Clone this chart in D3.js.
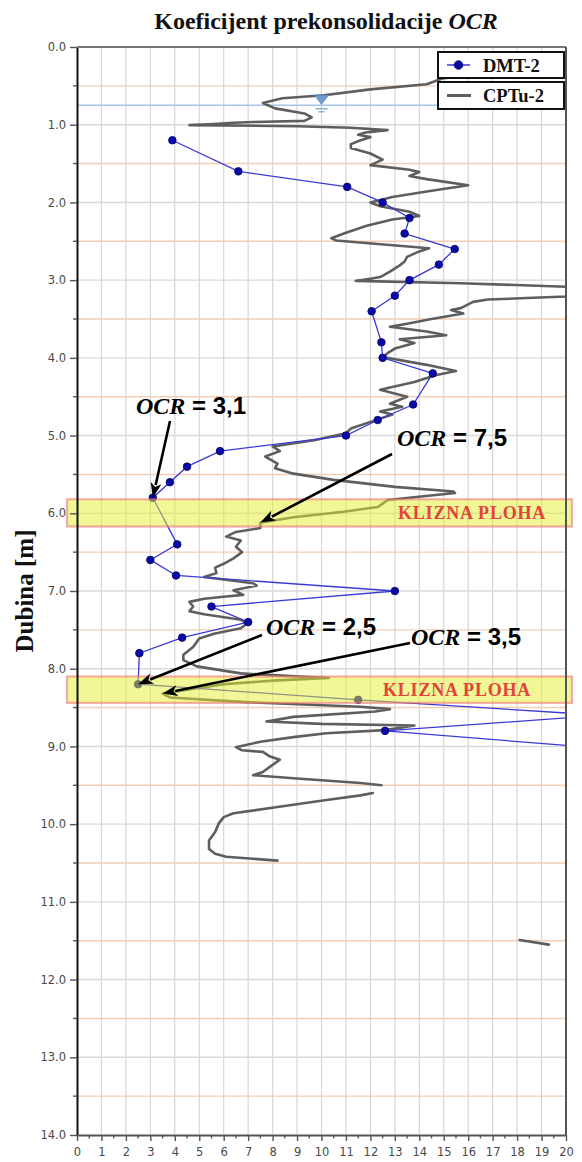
<!DOCTYPE html>
<html>
<head>
<meta charset="utf-8">
<script src="https://cdn.jsdelivr.net/npm/d3@7"></script>
<style>
  html, body { margin: 0; padding: 0; background: #fff; }
  svg { display: block; }
</style>
</head>
<body>
<script>
// ---------------- data ----------------
// DMT-2 sounding: depth [m] and OCR
const dmtDepth = [1.2, 1.6, 1.8, 2.0, 2.2, 2.4, 2.6, 2.8, 3.0, 3.2, 3.4, 3.8, 4.0, 4.2, 4.6, 4.8, 5.0,
                  5.2, 5.4, 5.6, 5.8, 6.4, 6.6, 6.8, 7.0, 7.2, 7.4, 7.6, 7.8, 8.2, 8.4, 8.6, 8.8, 9.0];
const dmtOcr   = [3.9, 6.6, 11.05, 12.5, 13.6, 13.4, 15.45, 14.8, 13.6, 13.0, 12.05, 12.45, 12.5, 14.55, 13.75, 12.3, 11.0,
                  5.85, 4.5, 3.8, 3.1, 4.1, 3.0, 4.05, 13.0, 5.5, 7.0, 4.3, 2.55, 2.5, 11.5, 21.5, 12.6, 20.5];

// CPTu-2 sounding: depth [m] and OCR (null = gap in the record)
const cptuDepth = [0.35, 0.40, 0.48, 0.545, 0.62, 0.66, 0.72, 0.79, 0.855, 0.905, 0.95, 0.965, 0.975, 0.99, 1.005,
  1.02, 1.04, 1.07, 1.10, 1.13, 1.16, 1.20, 1.25, 1.30, 1.37, 1.45, 1.52, 1.58, 1.61, 1.66, 1.70, 1.78, 1.86, 1.93,
  2.00, 2.05, 2.12, 2.175, 2.22, 2.30, 2.39, 2.46, 2.49, 2.535, 2.59, 2.63, 2.70, 2.76, 2.81, 2.89, 2.96, 2.98,
  3.01, 3.04, 3.09, 3.15, 3.21, 3.25, 3.28, 3.36, 3.385, 3.43, 3.50, 3.56, 3.60, 3.66, 3.71, 3.76, 3.81, 3.88,
  3.94, 3.99, 4.09, 4.17, 4.22, 4.31, 4.41, 4.50, 4.59, 4.63, 4.69, 4.73, 4.84, 4.91, 4.97, 5.06, 5.14, 5.20,
  5.27, 5.36, 5.42, 5.49, 5.57, 5.66, 5.72, 5.74, 5.83, 5.92, 5.98, 6.05, 6.12, 6.19, 6.24, 6.30, 6.35, 6.43,
  6.50, 6.58, 6.65, 6.70, 6.77, 6.82, 6.90, 6.93, 6.99, 7.05, 7.07, 7.10, 7.14, 7.20, 7.26, 7.30, 7.37, 7.42,
  7.48, 7.55, 7.61, 7.72, 7.82, 7.89, 7.97, 8.06, 8.12, 8.15, 8.20, 8.23, 8.32, 8.37, 8.43, 8.49, 8.52, 8.55,
  8.62, 8.68, 8.71, 8.73, 8.79, 8.83, 8.88, 8.94, 9.01, 9.05, 9.07, 9.13, 9.17, 9.26, 9.33, 9.37, 9.41, 9.47, 9.50,
  null,
  9.60, 9.63, 9.69, 9.78, 9.86, 9.91, 9.99, 10.10, 10.21, 10.32, 10.38, 10.42, 10.47,
  null,
  11.49, 11.55];
const cptuOcr = [17.0, 15.0, 14.3, 12.0, 10.1, 8.4, 7.6, 8.1, 9.3, 9.6, 9.3, 7.2, 6.4, 5.6, 4.6,
  9.0, 11.2, 12.7, 11.8, 11.5, 12.0, 11.6, 11.2, 11.2, 12.0, 12.5, 12.0, 13.6, 14.0, 13.6, 14.3, 16.0, 14.3, 12.9,
  12.0, 12.4, 13.6, 14.0, 12.9, 11.85, 11.0, 10.4, 10.6, 12.3, 14.4, 14.0, 13.5, 13.4, 13.2, 12.8, 12.4, 12.05,
  11.4, 15.7, 20.5, 21.5, 20.0, 16.8, 16.2, 15.7, 15.3, 15.8, 14.5, 13.5, 12.8, 14.3, 15.1, 13.2, 13.8, 13.0,
  12.7, 12.5, 14.3, 15.5, 14.7, 13.8, 12.4, 13.5, 12.8, 13.3, 12.4, 12.9, 11.85, 11.2, 11.0, 9.7, 8.0, 8.3,
  7.7, 8.2, 8.1, 8.85, 10.5, 13.0, 15.4, 15.46, 12.7, 12.3, 10.9, 8.85, 7.5, 7.5, 6.5, 6.1, 6.7, 6.5,
  6.75, 6.4, 6.0, 5.65, 5.7, 5.2, 7.2, 7.35, 6.4, 6.8, 6.1, 5.2, 4.6, 4.75, 4.6, 5.2, 6.7, 6.95,
  6.7, 5.6, 5.0, 4.75, 4.35, 4.35, 4.9, 6.7, 10.3, 8.2, 6.0, 5.4, 3.5, 3.8, 6.9, 11.6, 12.8, 12.2,
  8.85, 7.75, 10.0, 13.8, 12.6, 10.2, 8.85, 7.5, 6.5, 6.75, 7.6, 7.9, 8.3, 7.9, 7.6, 7.2, 8.85, 11.6, 12.45,
  null,
  12.1, 11.6, 10.2, 8.2, 6.4, 6.0, 5.8, 5.65, 5.4, 5.4, 5.65, 6.1, 8.2,
  null,
  18.1, 19.3];

// Slip surfaces (depth range, m)
const slipTop    = [5.82, 8.10];
const slipBottom = [6.17, 8.44];
const slipLabel  = "KLIZNA PLOHA";

// Ground water level
const waterDepth = 0.75;
const waterMarkOcr = 10;

// Annotated OCR values: text, target depth and OCR
const noteText  = ["3,1", "7,5", "2,5", "3,5"];
const noteDepth = [5.8, 6.12, 8.2, 8.32];
const noteOcr   = [3.1, 7.5, 2.5, 3.5];

// Axis ticks
const depthTicks = [0, 1, 2, 3, 4, 5, 6, 7, 8, 9, 10, 11, 12, 13, 14];
const depthMinorTicks = [0.5, 1.5, 2.5, 3.5, 4.5, 5.5, 6.5, 7.5, 8.5, 9.5, 10.5, 11.5, 12.5, 13.5];
const ocrTicks = [0, 1, 2, 3, 4, 5, 6, 7, 8, 9, 10, 11, 12, 13, 14, 15, 16, 17, 18, 19, 20];
const ocrMinorTicks = ocrTicks.slice(0, -1).map(v => v + 0.5);

const seriesNames = ["DMT-2", "CPTu-2"];

// ---------------- layout ----------------
const W = 582, H = 1162;
const plot = { left: 77, right: 566, top: 47, bottom: 1135 };

const x = d3.scaleLinear().domain([0, 20]).range([plot.left, plot.right]);
const y = d3.scaleLinear().domain([0, 14]).range([plot.top, plot.bottom]);

const svg = d3.select("body").append("svg")
  .attr("width", W).attr("height", H)
  .style("font-family", "'DejaVu Sans', sans-serif");

svg.append("defs").append("clipPath").attr("id", "plotClip")
  .append("rect")
  .attr("x", plot.left).attr("y", plot.top)
  .attr("width", plot.right - plot.left).attr("height", plot.bottom - plot.top);

// ---------------- grid ----------------
const grid = svg.append("g");
grid.selectAll("line.v").data(ocrTicks.slice(1, -1)).join("line")
  .attr("x1", d => x(d)).attr("x2", d => x(d))
  .attr("y1", plot.top).attr("y2", plot.bottom)
  .attr("stroke", "#d6d6d6").attr("stroke-width", 1.2);
grid.selectAll("line.h").data(depthTicks.slice(1, -1)).join("line")
  .attr("x1", plot.left).attr("x2", plot.right)
  .attr("y1", d => y(d)).attr("y2", d => y(d))
  .attr("stroke", "#d9d9d9").attr("stroke-width", 1.4);
grid.selectAll("line.hm").data(depthMinorTicks).join("line")
  .attr("x1", plot.left).attr("x2", plot.right)
  .attr("y1", d => y(d)).attr("y2", d => y(d))
  .attr("stroke", "#f1cfb6").attr("stroke-width", 1.4);

// ground water line
svg.append("line")
  .attr("x1", plot.left).attr("x2", plot.right)
  .attr("y1", y(waterDepth)).attr("y2", y(waterDepth))
  .attr("stroke", "#a7c5e3").attr("stroke-width", 1.5);

// ---------------- series ----------------
const data = svg.append("g").attr("clip-path", "url(#plotClip)");

const cptu = cptuDepth.map((d, i) => ({ depth: d, ocr: cptuOcr[i] }));
const lineGen = d3.line()
  .defined(d => d.ocr !== null && d.depth !== null)
  .x(d => x(d.ocr)).y(d => y(d.depth));

data.append("path")
  .datum(cptu)
  .attr("d", lineGen)
  .attr("fill", "none")
  .attr("stroke", "#5e5e5e")
  .attr("stroke-width", 2.6)
  .attr("stroke-linejoin", "round")
  .attr("stroke-linecap", "round");

const dmt = dmtDepth.map((d, i) => ({ depth: d, ocr: dmtOcr[i] }));
data.append("path")
  .datum(dmt)
  .attr("d", lineGen)
  .attr("fill", "none")
  .attr("stroke", "#3a3ad6")
  .attr("stroke-width", 1.3);

data.selectAll("circle.dmt").data(dmt).join("circle")
  .attr("cx", d => x(d.ocr)).attr("cy", d => y(d.depth))
  .attr("r", 3.8)
  .attr("fill", "#0a0aa8")
  .attr("stroke", "#000060")
  .attr("stroke-width", 0.8);

// ground water marker
const wx = x(waterMarkOcr), wy = y(waterDepth);
svg.append("path")
  .attr("d", `M${wx - 7},${wy - 10} L${wx + 7},${wy - 10} L${wx},${wy - 1} Z`)
  .attr("fill", "#6d9fd6").attr("stroke", "#5a8cc4").attr("stroke-width", 0.8);
svg.append("line")
  .attr("x1", wx - 6).attr("x2", wx + 6).attr("y1", wy + 3.5).attr("y2", wy + 3.5)
  .attr("stroke", "#7aa6d8").attr("stroke-width", 1.3);
svg.append("line")
  .attr("x1", wx - 3).attr("x2", wx + 3).attr("y1", wy + 6.5).attr("y2", wy + 6.5)
  .attr("stroke", "#7aa6d8").attr("stroke-width", 1.3);

// ---------------- slip surfaces ----------------
const bands = svg.append("g");
const bandLabelX = [398, 383];
slipTop.forEach((top, i) => {
  bands.append("rect")
    .attr("x", plot.left - 10)
    .attr("y", y(top))
    .attr("width", plot.right - plot.left + 16)
    .attr("height", y(slipBottom[i]) - y(top))
    .attr("fill", "rgba(228,238,45,0.5)")
    .attr("stroke", "rgba(238,110,110,0.55)")
    .attr("stroke-width", 2.2);
  bands.append("text")
    .attr("x", bandLabelX[i])
    .attr("y", (y(top) + y(slipBottom[i])) / 2 + 6.5)
    .attr("fill", "#e2433b")
    .attr("font-family", "'Liberation Serif', 'Times New Roman', serif")
    .attr("font-weight", "bold")
    .attr("font-size", 18)
    .attr("letter-spacing", 0.8)
    .text(slipLabel);
});

// ---------------- annotations ----------------
// label anchor (text start, baseline) and arrow start for each note
const noteLayout = [
  { tx: 136, ty: 414, ax: 170, ay: 421 },
  { tx: 397, ty: 446, ax: 392, ay: 454 },
  { tx: 266, ty: 635, ax: 262, ay: 635 },
  { tx: 411, ty: 645, ax: 410, ay: 643 }
];
const notes = svg.append("g");
noteText.forEach((txt, i) => {
  const L = noteLayout[i];
  const tipX = x(noteOcr[i]), tipY = y(noteDepth[i]);
  const dx = tipX - L.ax, dy = tipY - L.ay;
  const len = Math.hypot(dx, dy);
  const ux = dx / len, uy = dy / len;
  const headLen = 15, headHalf = 5.5;
  const bx = tipX - ux * headLen, by = tipY - uy * headLen;
  notes.append("line")
    .attr("x1", L.ax).attr("y1", L.ay)
    .attr("x2", bx + ux * 2).attr("y2", by + uy * 2)
    .attr("stroke", "#000").attr("stroke-width", 2.6);
  notes.append("path")
    .attr("d", `M${tipX},${tipY} L${bx - uy * headHalf},${by + ux * headHalf} L${bx + ux * 4},${by + uy * 4} L${bx + uy * headHalf},${by - ux * headHalf} Z`)
    .attr("fill", "#000");
  const t = notes.append("text")
    .attr("x", L.tx).attr("y", L.ty)
    .attr("font-size", 24)
    .attr("font-weight", "bold")
    .attr("fill", "#000");
  t.append("tspan")
    .attr("font-family", "'Liberation Serif', 'Times New Roman', serif")
    .attr("font-style", "italic")
    .text("OCR");
  t.append("tspan")
    .attr("font-family", "'Liberation Sans', Arial, sans-serif")
    .text(" = " + txt);
});

// ---------------- axes ----------------
const yAxis = svg.append("g")
  .attr("transform", `translate(${plot.left},0)`)
  .call(d3.axisLeft(y).tickValues(depthTicks).tickFormat(d3.format(".1f"))
    .tickSize(7).tickSizeOuter(0).tickPadding(4));
yAxis.append("g").selectAll("line").data(depthMinorTicks).join("line")
  .attr("x1", -4).attr("x2", 0)
  .attr("y1", d => y(d)).attr("y2", d => y(d))
  .attr("stroke", "#555").attr("stroke-width", 1.4);
yAxis.select(".domain").attr("stroke", "#111").attr("stroke-width", 2);
yAxis.selectAll(".tick line").attr("stroke", "#555").attr("stroke-width", 1.4);
yAxis.selectAll(".tick text")
  .attr("font-family", "'DejaVu Sans', sans-serif")
  .attr("font-size", 11.5).attr("fill", "#4a4a4a");

const xAxis = svg.append("g")
  .attr("transform", `translate(0,${plot.bottom})`)
  .call(d3.axisBottom(x).tickValues(ocrTicks).tickFormat(d3.format("d"))
    .tickSize(6).tickSizeOuter(0).tickPadding(7));
xAxis.append("g").selectAll("line").data(ocrMinorTicks).join("line")
  .attr("x1", d => x(d)).attr("x2", d => x(d))
  .attr("y1", 0).attr("y2", 3.5)
  .attr("stroke", "#555").attr("stroke-width", 1.4);
xAxis.select(".domain").attr("stroke", "#555").attr("stroke-width", 2.2);
xAxis.selectAll(".tick line").attr("stroke", "#555").attr("stroke-width", 1.4);
xAxis.selectAll(".tick text")
  .attr("font-family", "'DejaVu Sans', sans-serif")
  .attr("font-size", 11.5).attr("fill", "#4a4a4a");

// top and right frame
svg.append("line")
  .attr("x1", plot.left).attr("x2", plot.right)
  .attr("y1", plot.top).attr("y2", plot.top)
  .attr("stroke", "#777").attr("stroke-width", 2);
svg.append("line")
  .attr("x1", plot.right).attr("x2", plot.right)
  .attr("y1", plot.top).attr("y2", plot.bottom)
  .attr("stroke", "#555").attr("stroke-width", 2);

// ---------------- legend ----------------
const legend = svg.append("g");
const legendBoxes = [{ y0: 52, y1: 78 }, { y0: 82, y1: 109 }];
seriesNames.forEach((name, i) => {
  const b = legendBoxes[i];
  const cy = (b.y0 + b.y1) / 2;
  legend.append("rect")
    .attr("x", 438).attr("y", b.y0)
    .attr("width", 126).attr("height", b.y1 - b.y0)
    .attr("fill", "#fff").attr("stroke", "#111").attr("stroke-width", 2);
  if (i === 0) {
    legend.append("line").attr("x1", 447).attr("x2", 470).attr("y1", cy).attr("y2", cy)
      .attr("stroke", "#3a3ad6").attr("stroke-width", 1.5);
    legend.append("circle").attr("cx", 458.5).attr("cy", cy).attr("r", 4.3)
      .attr("fill", "#0a0aa8").attr("stroke", "#000060").attr("stroke-width", 0.8);
  } else {
    legend.append("line").attr("x1", 447).attr("x2", 471).attr("y1", cy).attr("y2", cy)
      .attr("stroke", "#5e5e5e").attr("stroke-width", 3);
  }
  legend.append("text")
    .attr("x", 483).attr("y", cy + 6.5)
    .attr("font-family", "'Liberation Serif', 'Times New Roman', serif")
    .attr("font-weight", "bold").attr("font-size", 18.5)
    .attr("fill", "#111")
    .text(name);
});

// ---------------- titles ----------------
const title = svg.append("text")
  .attr("x", 326).attr("y", 29)
  .attr("text-anchor", "middle")
  .attr("font-family", "'Liberation Serif', 'Times New Roman', serif")
  .attr("font-weight", "bold").attr("font-size", 24)
  .attr("fill", "#111");
title.append("tspan").text("Koeficijent prekonsolidacije ");
title.append("tspan").attr("font-style", "italic").text("OCR");

svg.append("text")
  .attr("transform", `translate(33,${(plot.top + plot.bottom) / 2}) rotate(-90)`)
  .attr("text-anchor", "middle")
  .attr("font-family", "'Liberation Serif', 'Times New Roman', serif")
  .attr("font-weight", "bold").attr("font-size", 25)
  .attr("fill", "#111")
  .text("Dubina [m]");
</script>
</body>
</html>
